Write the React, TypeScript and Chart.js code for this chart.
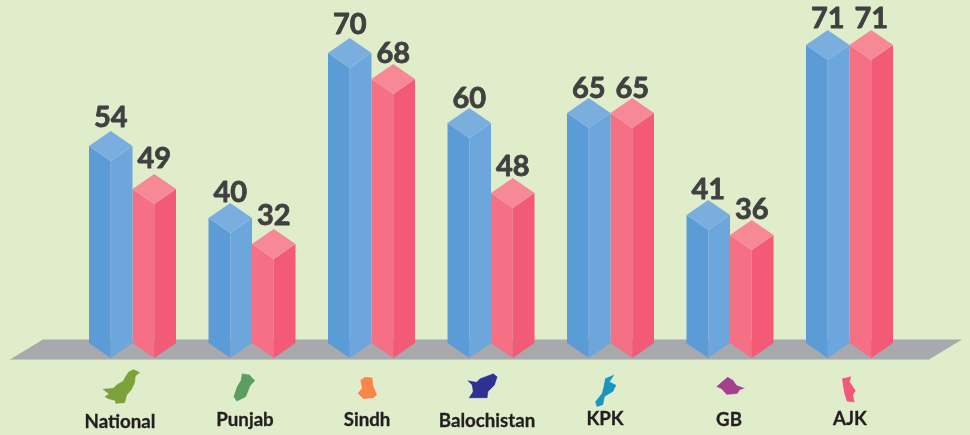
import React, { useEffect, useRef } from "react";
import { Chart, BarController, BarElement, CategoryScale, LinearScale } from "chart.js";

// ---- data ----
const regions = ["National", "Punjab", "Sindh", "Balochistan", "KPK", "GB", "AJK"];
const blueValues = [54, 40, 70, 60, 65, 41, 71];
const redValues = [49, 32, 68, 48, 65, 36, 71];
// The infographic's bars are not proportional to their printed numbers, so the
// heights are read from the picture separately from the printed values.
const blueHeights = [197, 125, 290, 220, 230, 128, 298];
const redHeights = [154, 99, 264, 150, 230, 108, 298];

// ---- style / layout ----
const BG = "#E0EDCB";
const FLOOR = "#A7A9AC";
const BLUE = "#5B9BD6";
const RED = "#F56F85";
const FACES: Record<string, { side: string; top: string }> = {
  [BLUE]: { side: "#6DA6DC", top: "#7AAEDF" },
  [RED]: { side: "#F25A75", top: "#F78896" },
};
const RISE = 15;
const blueLabelGap = [4, 1, 4, 0, 0, 1, 2];
const redLabelGap = [6, 4, 1, 2, 0, 1, 2];
const nameX = [120, 245, 367, 487, 605, 729, 850];
const nameY = [422, 420, 420, 421, 419, 420, 419];

type Pt = [number, number];
const icon = (ox: number, oy: number, color: string, pts: Pt[]) => ({
  color,
  pts: pts.map(([x, y]) => [ox + x / 3, oy + y / 3] as Pt),
});
const icons = [
  icon(0, 120, "#7CA23A", [[305,806],[340,803],[350,793],[368,783],[375,770],[385,755],[400,747],[422,757],[408,768],[405,790],[395,810],[382,825],[375,850],[345,852],[345,843],[325,838],[312,830],[325,822]]),
  icon(0, 120, "#5A9F60", [[725,760],[748,763],[766,782],[752,797],[738,832],[710,845],[700,830],[710,800],[722,780]]),
  icon(320, 330, "#F9854A", [[120,150],[135,140],[158,142],[160,165],[172,195],[160,205],[130,208],[112,190],[125,175]]),
  icon(320, 330, "#2E3192", [[440,150],[470,155],[480,145],[520,130],[533,140],[525,165],[505,185],[503,205],[445,205],[458,185],[455,165]]),
  icon(320, 330, "#1B95BC", [[855,145],[885,132],[870,155],[890,165],[880,185],[855,200],[850,225],[830,232],[825,215],[845,190],[850,170]]),
  icon(650, 330, "#A3418A", [[198,170],[215,155],[233,140],[250,150],[260,165],[287,175],[270,180],[262,192],[230,195],[215,178]]),
  icon(650, 330, "#F2587A", [[575,145],[605,138],[600,155],[618,182],[610,195],[615,218],[590,215],[582,190],[578,165]]),
];

class PrismBar extends BarElement {
  static id = "prismBar";
  draw(ctx: CanvasRenderingContext2D) {
    const { x, y, base, width } = (this as any).getProps(["x", "y", "base", "width"]);
    const front = (this as any).options.backgroundColor as string;
    const { side, top } = FACES[front];
    const h = width / 2;
    const poly = (color: string, pts: number[][]) => {
      ctx.fillStyle = color;
      ctx.beginPath();
      pts.forEach(([a, b], i) => (i ? ctx.lineTo(a, b) : ctx.moveTo(a, b)));
      ctx.closePath();
      ctx.fill();
    };
    poly(front, [[x - h, y - RISE], [x, y], [x, base], [x - h, base - RISE]]);
    poly(side, [[x, y], [x + h, y - RISE], [x + h, base - RISE], [x, base]]);
    poly(top, [[x, y], [x - h, y - RISE], [x, y - 2 * RISE], [x + h, y - RISE]]);
  }
}

class PrismController extends BarController {
  static id = "prism";
  static defaults = { dataElementType: "prismBar" };
}

Chart.register(PrismController, PrismBar, BarElement, CategoryScale, LinearScale);

const backdrop = {
  id: "backdrop",
  beforeDraw(chart: any) {
    const { ctx, width, height, scales } = chart;
    ctx.save();
    ctx.fillStyle = BG;
    ctx.fillRect(0, 0, width, height);
    const by = scales.y.getPixelForValue(0);
    ctx.fillStyle = FLOOR;
    ctx.beginPath();
    ctx.moveTo(10, by + 1.5);
    ctx.lineTo(43, by - 18.5);
    ctx.lineTo(962, by - 18.5);
    ctx.lineTo(929, by + 1.5);
    ctx.closePath();
    ctx.fill();
    ctx.fillStyle = "#C2C8BC";
    ctx.fillRect(10, by + 1, 919, 1);
    ctx.restore();
  },
};

const heavyText = (ctx: CanvasRenderingContext2D, text: string, x: number, y: number, weight: number) => {
  ctx.lineWidth = weight;
  ctx.lineJoin = "round";
  ctx.strokeStyle = ctx.fillStyle as string;
  ctx.strokeText(text, x, y);
  ctx.fillText(text, x, y);
};

const annotations = {
  id: "annotations",
  afterDatasetsDraw(chart: any) {
    const { ctx } = chart;
    ctx.save();
    ctx.textAlign = "center";
    ctx.textBaseline = "alphabetic";
    ctx.fillStyle = "#404040";
    ctx.font = 'bold 29px Lato, "Open Sans", sans-serif';
    [
      { values: blueValues, gaps: blueLabelGap },
      { values: redValues, gaps: redLabelGap },
    ].forEach(({ values, gaps }, d) => {
      chart.getDatasetMeta(d).data.forEach((bar: any, i: number) => {
        heavyText(ctx, String(values[i]), bar.x, bar.y - 2 * RISE - gaps[i], 0.8);
      });
    });
    icons.forEach(({ color, pts }) => {
      ctx.fillStyle = color;
      ctx.strokeStyle = "rgba(255,255,255,0.55)";
      ctx.lineWidth = 0.8;
      ctx.beginPath();
      pts.forEach(([a, b], i) => (i ? ctx.lineTo(a, b) : ctx.moveTo(a, b)));
      ctx.closePath();
      ctx.fill();
      ctx.stroke();
    });
    ctx.fillStyle = "#231F20";
    ctx.font = 'bold 18.7px Lato, "Open Sans", sans-serif';
    ctx.textBaseline = "middle";
    regions.forEach((name, i) => heavyText(ctx, name, nameX[i], nameY[i], 0.3));
    ctx.restore();
  },
};

export default function App() {
  const ref = useRef<HTMLCanvasElement>(null);
  useEffect(() => {
    const chart = new Chart(ref.current!, {
      type: "prism" as any,
      data: {
        labels: regions,
        datasets: [
          { label: "Blue", data: blueHeights, backgroundColor: BLUE, clip: false } as any,
          { label: "Red", data: redHeights, backgroundColor: RED, clip: false } as any,
        ],
      },
      options: {
        animation: false,
        responsive: false,
        events: [],
        layout: { padding: { left: 72.75, right: 60.75, top: 0, bottom: 77 } },
        datasets: { prism: { categoryPercentage: 0.728, barPercentage: 1 } } as any,
        scales: {
          x: { type: "category", display: false, offset: true, grid: { display: false } },
          y: { type: "linear", display: false, min: 0, max: 358 },
        },
        plugins: { legend: { display: false }, tooltip: { enabled: false } } as any,
      } as any,
      plugins: [backdrop, annotations],
    });
    return () => chart.destroy();
  }, []);
  return (
    <div style={{ position: "fixed", left: 0, top: 0, width: 970, height: 435, background: BG }}>
      <canvas ref={ref} width={970} height={435} style={{ display: "block" }} />
    </div>
  );
}
